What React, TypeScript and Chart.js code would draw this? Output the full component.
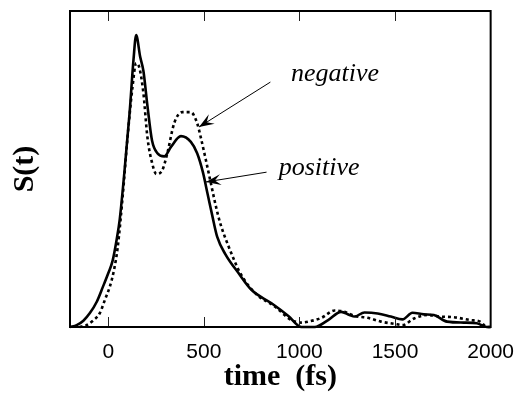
import React, { useEffect, useRef } from "react";
import { Chart, registerables } from "chart.js";

Chart.register(...registerables);

// positive (solid)
const POS_T = [-200, -165, -130, -96, -60, -28, 0, 23, 45, 60, 86, 112, 132, 146, 167, 184, 205, 229, 257, 293, 328, 380, 432, 465, 495, 520, 545, 570, 613, 682, 750, 854, 942, 1010, 1080, 1150, 1218, 1262, 1288, 1340, 1409, 1478, 1539, 1591, 1651, 1703, 1772, 1859, 1928, 1980, 2000];
const POS_S = [0, 0.006, 0.02, 0.044, 0.08, 0.127, 0.17, 0.21, 0.28, 0.34, 0.5, 0.68, 0.845, 0.924, 0.855, 0.81, 0.7, 0.59, 0.55, 0.54, 0.57, 0.604, 0.586, 0.55, 0.49, 0.42, 0.35, 0.285, 0.23, 0.17, 0.117, 0.075, 0.035, 0, 0, 0.022, 0.048, 0.038, 0.033, 0.046, 0.043, 0.033, 0.024, 0.045, 0.04, 0.038, 0.017, 0.014, 0.012, 0, 0];

// negative (dotted)
const NEG_T = [-150, -113, -80, -44, -15, 8, 30, 49, 75, 101, 127, 146, 163, 184, 205, 229, 252, 283, 309, 345, 387, 432, 465, 484, 510, 535, 560, 585, 630, 691, 769, 873, 958, 1010, 1046, 1115, 1184, 1236, 1288, 1357, 1426, 1496, 1539, 1600, 1668, 1737, 1807, 1893, 1945, 1980, 2000];
const NEG_S = [0, 0.006, 0.02, 0.044, 0.09, 0.127, 0.18, 0.25, 0.41, 0.6, 0.76, 0.835, 0.82, 0.74, 0.6, 0.52, 0.484, 0.497, 0.55, 0.645, 0.68, 0.68, 0.645, 0.6, 0.53, 0.46, 0.39, 0.33, 0.254, 0.17, 0.107, 0.064, 0.022, 0.014, 0.017, 0.029, 0.052, 0.048, 0.035, 0.029, 0.017, 0.01, 0.006, 0.027, 0.038, 0.033, 0.031, 0.022, 0.017, 0, 0];

const X_TICKS = [0, 500, 1000, 1500, 2000];
const X_TICK_LABELS = ["0", "500", "1000", "1500", "2000"];
const X_MIN = -200;
const X_MAX = 2000;
const X_TITLE = "time  (fs)";
const Y_TITLE = "S(t)";

const ANN_TEXT = ["negative", "positive"];
const ANN_T = [1186, 1103];
const ANN_S = [0.8, 0.503];
const ARROW_FROM_T = [848, 828];
const ARROW_FROM_S = [0.775, 0.49];
const ARROW_TO_T = [475, 511];
const ARROW_TO_S = [0.633, 0.459];

const decorPlugin = {
  id: "decor",
  afterDatasetsDraw(chart: any) {
    const ctx = chart.ctx;
    const xs = chart.scales.x;
    const ys = chart.scales.y;
    const { left, right, top, bottom } = chart.chartArea;
    ctx.save();
    // inward ticks
    ctx.strokeStyle = "#222";
    ctx.lineWidth = 1;
    X_TICKS.forEach((v) => {
      const px = Math.round(xs.getPixelForValue(v)) + 0.5;
      if (px <= left + 2 || px >= right - 2) return;
      ctx.beginPath();
      ctx.moveTo(px, bottom);
      ctx.lineTo(px, bottom - 10);
      ctx.moveTo(px, top);
      ctx.lineTo(px, top + 10);
      ctx.stroke();
    });
    // frame
    ctx.strokeStyle = "#000";
    ctx.lineWidth = 2;
    ctx.strokeRect(left, top, right - left, bottom - top);
    // annotations
    ctx.fillStyle = "#000";
    ctx.font = 'italic 26px "Liberation Serif", "DejaVu Serif", serif';
    ctx.textAlign = "center";
    ctx.textBaseline = "middle";
    ANN_TEXT.forEach((txt, i) => {
      const tx = xs.getPixelForValue(ANN_T[i]);
      const ty = ys.getPixelForValue(ANN_S[i]);
      ctx.fillText(txt, tx, ty);
      const x1 = xs.getPixelForValue(ARROW_FROM_T[i]);
      const y1 = ys.getPixelForValue(ARROW_FROM_S[i]);
      const x2 = xs.getPixelForValue(ARROW_TO_T[i]);
      const y2 = ys.getPixelForValue(ARROW_TO_S[i]);
      ctx.lineWidth = 1;
      ctx.strokeStyle = "#000";
      ctx.beginPath();
      ctx.moveTo(x1, y1);
      ctx.lineTo(x2, y2);
      ctx.stroke();
      const dx = x1 - x2;
      const dy = y1 - y2;
      const len = Math.hypot(dx, dy);
      const ux = dx / len;
      const uy = dy / len;
      const nx = -uy;
      const ny = ux;
      const L = 15;
      const W = 5.5;
      ctx.beginPath();
      ctx.moveTo(x2, y2);
      ctx.lineTo(x2 + ux * L + nx * W, y2 + uy * L + ny * W);
      ctx.lineTo(x2 + ux * L * 0.6, y2 + uy * L * 0.6);
      ctx.lineTo(x2 + ux * L - nx * W, y2 + uy * L - ny * W);
      ctx.closePath();
      ctx.fill();
    });
    ctx.restore();
  },
};

export default function App() {
  const ref = useRef<HTMLCanvasElement>(null);
  useEffect(() => {
    if (!ref.current) return;
    const chart = new Chart(ref.current, {
      type: "line",
      data: {
        datasets: [
          {
            label: "negative",
            data: NEG_T.map((t, i) => ({ x: t, y: NEG_S[i] })),
            borderColor: "#000",
            borderWidth: 2.6,
            borderDash: [3, 3],
            pointRadius: 0,
            fill: false,
            cubicInterpolationMode: "monotone",
            clip: 4,
          },
          {
            label: "positive",
            data: POS_T.map((t, i) => ({ x: t, y: POS_S[i] })),
            borderColor: "#000",
            borderWidth: 2.6,
            pointRadius: 0,
            fill: false,
            cubicInterpolationMode: "monotone",
            clip: 4,
          },
        ],
      } as any,
      options: {
        animation: false,
        responsive: false,
        layout: { padding: { top: 11, right: 33, left: 0, bottom: 0 } },
        plugins: { legend: { display: false }, tooltip: { enabled: false } },
        scales: {
          x: {
            type: "linear",
            min: X_MIN,
            max: X_MAX,
            grid: { display: false, drawTicks: false },
            border: { display: false },
            afterBuildTicks: (s: any) => {
              s.ticks = X_TICKS.map((v) => ({ value: v }));
            },
            afterFit: (s: any) => {
              s.height = 71;
            },
            ticks: {
              autoSkip: false,
              maxRotation: 0,
              padding: 13,
              color: "#000",
              font: { family: '"Liberation Sans", Arial, sans-serif', size: 21 },
              callback: (v: any) => {
                const i = X_TICKS.indexOf(Number(v));
                return i >= 0 ? X_TICK_LABELS[i] : "";
              },
            },
            title: {
              display: true,
              text: X_TITLE,
              color: "#000",
              font: { family: '"Liberation Serif", "Times New Roman", serif', size: 30, weight: "bold" },
              padding: { top: 0, bottom: 3 },
            },
          },
          y: {
            type: "linear",
            min: 0,
            max: 1,
            grid: { display: false, drawTicks: false },
            border: { display: false },
            ticks: { display: false },
            afterFit: (s: any) => {
              s.width = 70;
            },
            title: {
              display: true,
              text: Y_TITLE,
              color: "#000",
              font: { family: '"Liberation Serif", "Times New Roman", serif', size: 30, weight: "bold" },
              padding: { top: 7, bottom: 0 },
            },
          },
        },
      } as any,
      plugins: [decorPlugin],
    });
    return () => chart.destroy();
  }, []);
  return (
    <div style={{ position: "absolute", left: 0, top: 0, width: 527, height: 398, background: "#fff" }}>
      <canvas ref={ref} width={527} height={398} style={{ width: 527, height: 398 }} />
    </div>
  );
}
